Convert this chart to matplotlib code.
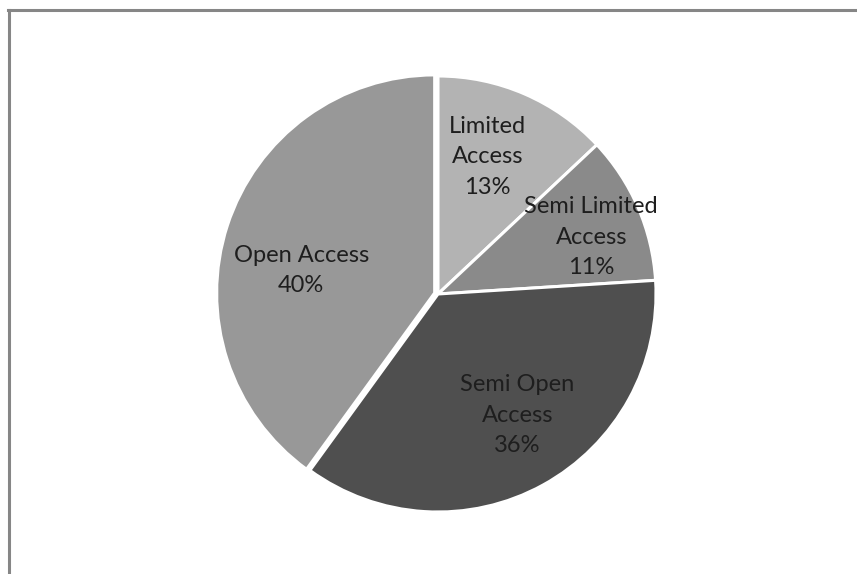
import matplotlib
matplotlib.use('Agg')
import numpy as np
import matplotlib.pyplot as plt
from matplotlib.lines import Line2D

# access categories, clockwise from 12 o'clock
categories = ['Limited\nAccess', 'Semi Limited\nAccess', 'Semi Open\nAccess', 'Open Access']
shares = [13, 11, 36, 40]
colors = ['#b3b3b3', '#8a8a8a', '#4f4f4f', '#989898']
explode = [0, 0, 0, 3.5]

# label placement: fraction of radius and angle tweak (deg) per wedge
label_r = [0.67, 0.75, 0.665, 0.62]
label_dang = [3.5, -3.0, 4.5, 8.5]

W, H = 857, 574
fig = plt.figure(figsize=(W / 100, H / 100), dpi=100)
ax = fig.add_axes([0, 0, 1, 1])

cx, cy, R = 438, H - 294, 218
wedges, _ = ax.pie(shares, colors=colors, explode=explode, startangle=90,
                   counterclock=False, radius=R, center=(cx, cy),
                   wedgeprops=dict(edgecolor='white', linewidth=2.2))

for w, name, pct, rf, da in zip(wedges, categories, shares, label_r, label_dang):
    ang = np.deg2rad((w.theta1 + w.theta2) / 2 + da)
    x = w.center[0] + rf * R * np.cos(ang)
    y = w.center[1] + rf * R * np.sin(ang)
    ax.text(x, y, f'{name}\n{pct}%', ha='center', va='center',
            fontsize=17, color='#1e1e1e', family='Lato', linespacing=1.55)

ax.set_xlim(0, W)
ax.set_ylim(0, H)
ax.set_aspect('equal', adjustable='box')
ax.axis('off')

# chart frame (top and left edges only)
fig.add_artist(Line2D([8 / W, 1], [1 - 9.5 / H, 1 - 9.5 / H], transform=fig.transFigure,
                      color='#868686', lw=2.2))
fig.add_artist(Line2D([8.5 / W, 8.5 / W], [0, 1 - 9.5 / H], transform=fig.transFigure,
                      color='#868686', lw=2.2))

plt.savefig('out.png', dpi=100)
